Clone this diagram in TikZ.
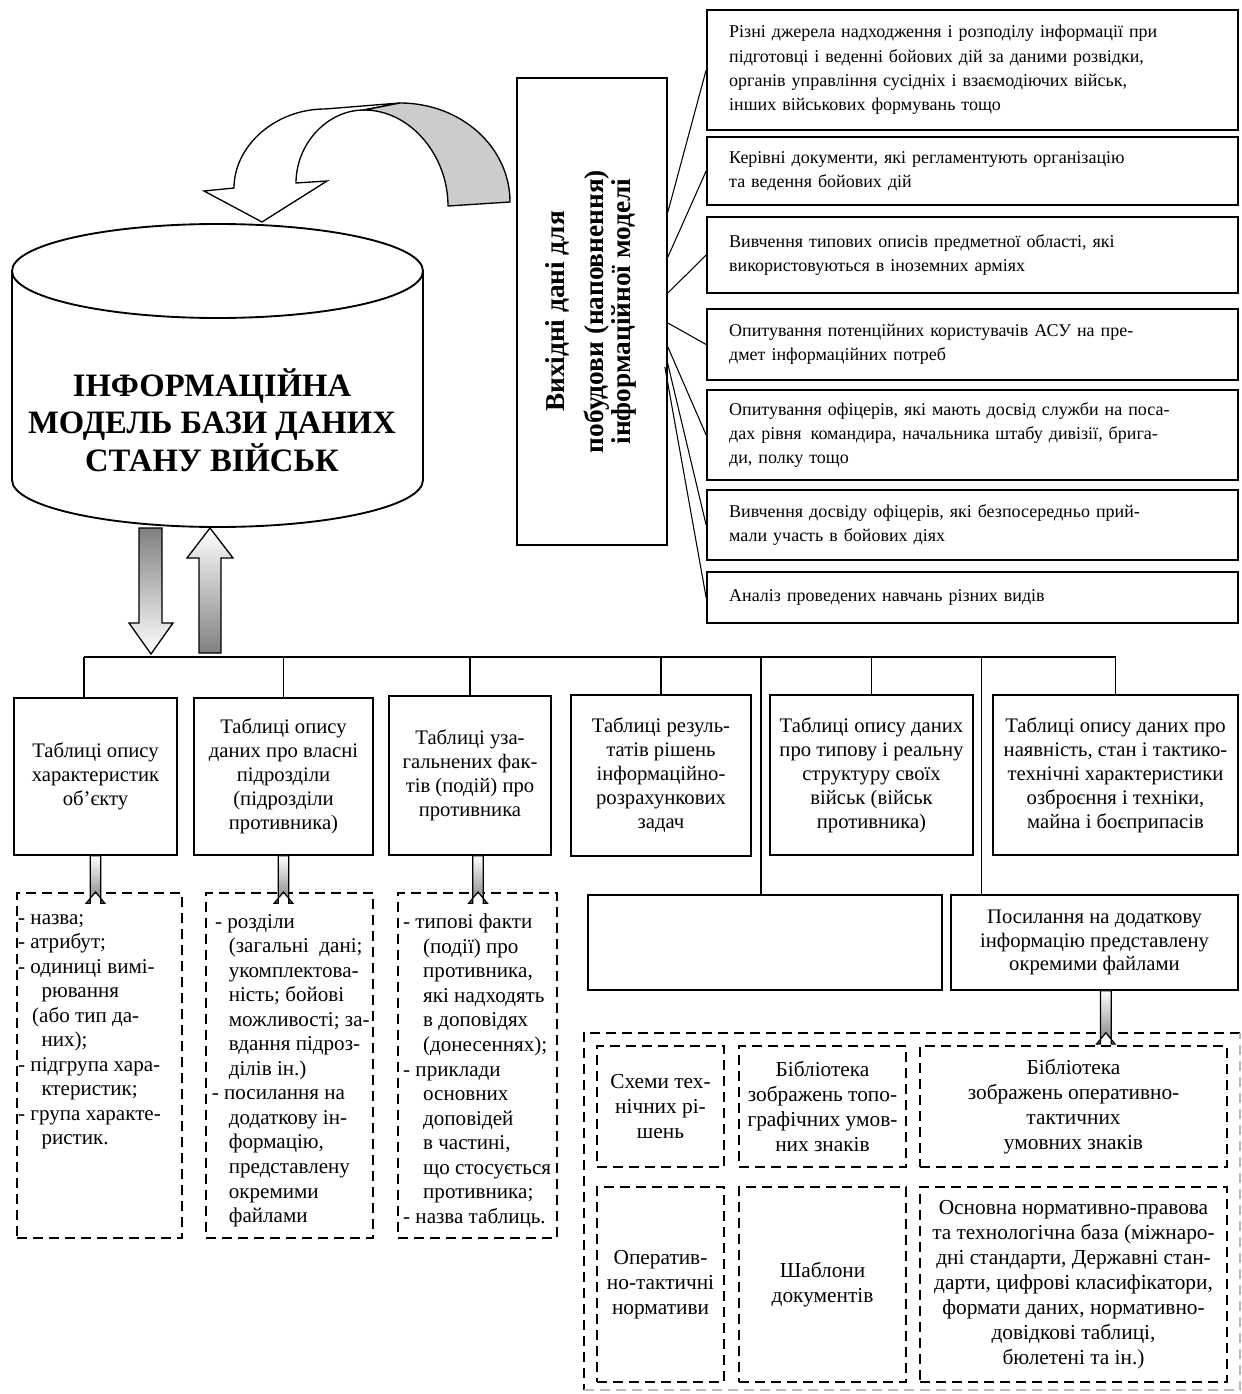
\documentclass[tikz,border=0pt]{standalone}
\usepackage{fontspec}
\setmainfont{Liberation Serif}
\usepackage{graphicx}
\usetikzlibrary{calc}

% small block arrow from one node to the next
\newcommand{\fatdown}[2]{\draw[fatarrow] let \p1=(#1), \p2=(#2) in (\x1-4pt,\y1) -- (\x1+4pt,\y1) -- (\x1+4pt,\y2+8.5pt) -- (\x1+7pt,\y2+8.5pt) -- (\x1,\y2) -- (\x1-7pt,\y2+8.5pt) -- (\x1-4pt,\y2+8.5pt) -- cycle;}

\tikzset{
  srcbox/.style={draw, line width=1.3pt, minimum width=398.25pt, text width=365pt, inner xsep=16.6pt, align=left, font=\fontsize{13.5}{18.2}\selectfont},
  tblbox/.style={draw, line width=1.3pt, align=center, inner sep=1pt, font=\fontsize{15.5}{18}\selectfont},
  listbox/.style={draw, line width=1.6pt, dash pattern=on 7.5pt off 4.5pt},
  listtext/.style={anchor=north west, inner sep=0pt, align=left, font=\fontsize{15.8}{18.4}\selectfont},
  libbox/.style={draw, line width=1.5pt, dash pattern=on 7.5pt off 4.5pt, align=center, inner sep=1pt, font=\fontsize{16}{18.8}\selectfont},
  link/.style={line width=0.8pt},
  fatarrow/.style={draw, line width=0.9pt, top color=white, bottom color=gray},
}

\begin{document}
\begin{tikzpicture}[x=0.75pt,y=0.75pt,yscale=-1,xscale=1]
\useasboundingbox (0,0) rectangle (1241,1394);

%Shape: Curved Arrow (white part)
\draw[line width=1pt, fill=white] (234,188) .. controls (234,146) and (275,109) .. (325,109) -- (400,103) -- (364,110) .. controls (327,110) and (296,144) .. (296,183) -- (327,181) -- (262,222) -- (204,191) -- cycle ;
%Shape: Curved Arrow (grey part)
\draw[line width=1pt, fill=gray!40] (364,110) .. controls (410,110) and (448,155) .. (448,206) -- (510,202) .. controls (510,147) and (461,103) .. (400,103) -- cycle ;

%Shape: Can
\draw[line width=1.4pt] (12,271) -- (12,480) arc[start angle=180, end angle=0, x radius=205.5, y radius=47] -- (423,271) ;
\draw[line width=1.4pt] (217.5,271) ellipse [x radius=205.5, y radius=47] ;
% Text Node
\node[align=center, font=\bfseries\fontsize{24.5}{28}\selectfont] (db) at (212,420) {ІНФОРМАЦІЙНА\\МОДЕЛЬ БАЗИ ДАНИХ\\СТАНУ ВІЙСЬК};

%Shape: Block Arrows
\draw[line width=1pt, top color=gray, bottom color=white] (139,528) -- (162,528) -- (162,623) -- (173,623) -- (151,654) -- (129,623) -- (139,623) -- cycle ;
\draw[line width=1pt, top color=white, bottom color=gray] (210,528) -- (233,558) -- (221,558) -- (221,653) -- (199,653) -- (199,558) -- (187,558) -- cycle ;

%Shape: Rectangle (vertical title)
\node[draw, line width=1.3pt, minimum width=112.5pt, minimum height=350.25pt, font=\bfseries\fontsize{20.5}{20}\selectfont] (title) at (592,311.5) {\rotatebox{90}{\begin{tabular}{@{}c@{}}Вихідні дані для\\[9pt] побудови (наповнення)\\ інформаційної моделі\end{tabular}}};

%Shape: Rectangles (sources)
\node[srcbox, minimum height=90pt] (src1) at (972.5,70) {Різні джерела надходження і розподілу інформації при\\ підготовці і веденні бойових дій за даними розвідки,\\ органів управління сусідніх і взаємодіючих військ,\\ інших військових формувань тощо};
\node[srcbox, minimum height=51pt] (src2) at (972.5,171) {Керівні документи, які регламентують організацію\\ та ведення бойових дій};
\node[srcbox, minimum height=57pt] (src3) at (972.5,255) {Вивчення типових описів предметної області, які\\ використовуються в іноземних арміях};
\node[srcbox, minimum height=53.25pt] (src4) at (972.5,344.5) {Опитування потенційних користувачів АСУ на пре-\\ дмет інформаційних потреб};
\node[srcbox, minimum height=67.5pt] (src5) at (972.5,435) {Опитування офіцерів, які мають досвід служби на поса-\\ дах рівня\enspace командира, начальника штабу дивізії, брига-\\ ди, полку тощо};
\node[srcbox, minimum height=52.5pt] (src6) at (972.5,525) {Вивчення досвіду офіцерів, які безпосередньо прий-\\ мали участь в бойових діях};
\node[srcbox, minimum height=38.25pt] (src7) at (972.5,597.5) {Аналіз проведених навчань різних видів};

%Straight Lines (fan)
\draw[link] (title.east) ++(0,-99.5) -- (src1.west) ;
\draw[link] (title.east) ++(0,-54.5) -- (src2.west) ;
\draw[link] (title.east) ++(0,-18.5) -- (src3.west) ;
\draw[link] (title.east) ++(0,11.5) -- (src4.west) ;
\draw[link] (title.east) ++(0,35.5) -- (src5.west) ;
\draw[link] (title.east) ++(-1,48.5) -- (src6.west) ;
\draw[link] (title.east) ++(-3,55.5) -- (src7.west) ;

%Shape: Rectangles (tables)
\node[tblbox, minimum width=122.25pt, minimum height=117.75pt] (t1) at (95.5,776.5) {Таблиці опису\\ характеристик\\ об’єкту};
\node[tblbox, minimum width=134.25pt, minimum height=117.75pt] (t2) at (283.5,776.5) {Таблиці опису\\ даних про власні\\ підрозділи\\ (підрозділи\\ противника)};
\node[tblbox, minimum width=121.5pt, minimum height=119.25pt] (t3) at (470,775.5) {Таблиці уза-\\ гальнених фак-\\ тів (подій) про\\ противника};
\node[tblbox, minimum width=135pt, minimum height=120.75pt] (t4) at (661,775.5) {Таблиці резуль-\\ татів рішень\\ інформаційно-\\ розрахункових\\ задач};
\node[tblbox, minimum width=152.25pt, minimum height=120pt] (t5) at (871.5,775) {Таблиці опису даних\\ про типову і реальну\\ структуру своїх\\ військ (військ\\ противника)};
\node[tblbox, minimum width=183.75pt, minimum height=120pt] (t6) at (1115.5,775) {Таблиці опису даних про\\ наявність, стан і тактико-\\ технічні характеристики\\ озброєння і техніки,\\ майна і боєприпасів};

\node[tblbox, minimum width=265.5pt, minimum height=71.25pt] (e) at (765,942.5) {};
\node[tblbox, minimum width=215.25pt, minimum height=71.25pt, font=\fontsize{15.5}{17.5}\selectfont] (p) at (1094.5,942.5) {Посилання на додаткову\\ інформацію представлену\\ окремими файлами};

%Straight Lines (bus)
\coordinate (bus1) at (84,657);
\draw[link] (bus1) -- (t6.north |- bus1) ;
\draw[link] (bus1) -- (bus1 |- t1.north) ;
\draw[link] (t2.north) -- (t2.north |- bus1) ;
\draw[link] (t3.north) -- (t3.north |- bus1) ;
\draw[link] (t4.north) -- (t4.north |- bus1) ;
\draw[link] (t5.north) -- (t5.north |- bus1) ;
\draw[link] (t6.north) -- (t6.north |- bus1) ;
\draw[link] ([xshift=-3pt]e.north) -- ([xshift=-3pt]e.north |- bus1) ;
\draw[link] ([xshift=23.25pt]p.north west) -- ([xshift=23.25pt]p.north west |- bus1) ;

%Shape: Dashed Rectangles (lists)
\node[listbox, minimum width=123.75pt, minimum height=258.75pt] (d1) at (99.5,1065.5) {};
\node[listbox, minimum width=125.25pt, minimum height=258.75pt] (d2) at (289.5,1065.5) {};
\node[listbox, minimum width=119.25pt, minimum height=258.75pt] (d3) at (477.5,1065.5) {};

% Text Node
\node[listtext] (l1) at ([xshift=1.5pt,yshift=16.5pt]d1.north west) {- назва;\\ - атрибут;\\ - одиниці вимі-\\ \hspace*{17.5pt}рювання\\ \hspace*{10.5pt}(або тип да-\\ \hspace*{17.5pt}них);\\ - підгрупа хара-\\ \hspace*{17.5pt}ктеристик;\\ - група характе-\\ \hspace*{17.5pt}ристик.};
% Text Node
\node[listtext] (l2) at ([xshift=5pt,yshift=16.5pt]d2.north west) {\hspace*{2.5pt}- розділи\\ \hspace*{12.75pt}(загальні\enspace дані;\\ \hspace*{12.75pt}укомплектова-\\ \hspace*{12.75pt}ність; бойові\\ \hspace*{12.75pt}можливості; за-\\ \hspace*{12.75pt}вдання підроз-\\ \hspace*{12.75pt}ділів ін.)\\ - посилання на\\ \hspace*{12.75pt}додаткову ін-\\ \hspace*{12.75pt}формацію,\\ \hspace*{12.75pt}представлену\\ \hspace*{12.75pt}окремими\\ \hspace*{12.75pt}файлами};
% Text Node
\node[listtext] (l3) at ([xshift=4.5pt,yshift=16.5pt]d3.north west) {- типові факти\\ \hspace*{15pt}(події) про\\ \hspace*{15pt}противника,\\ \hspace*{15pt}які надходять\\ \hspace*{15pt}в доповідях\\ \hspace*{15pt}(донесеннях);\\ - приклади\\ \hspace*{15pt}основних\\ \hspace*{15pt}доповідей\\ \hspace*{15pt}в частині,\\ \hspace*{15pt}що стосується\\ \hspace*{15pt}противника;\\ - назва таблиць.};

%Shape: Block Arrows (small)
\fatdown{t1.south}{d1.north}
\fatdown{t2.south}{d2.north}
\fatdown{[xshift=6pt]t3.south}{d3.north}

%Shape: Dashed Rectangle (store)
\node[minimum width=492pt, minimum height=267.75pt, inner sep=0pt] (store) at (912,1211.5) {};
\draw[line width=1.6pt, dash pattern=on 7.5pt off 4.5pt] (store.north east) -- (store.north west) -- (store.south west) ;
\draw[line width=1.6pt, gray!55, dash pattern=on 7.5pt off 4.5pt] (store.south west) -- (store.south east) -- (store.north east) ;
\fatdown{[xshift=8.5pt]p.south}{store.north}

%Shape: Dashed Rectangles (library)
\node[libbox, minimum width=95.25pt, minimum height=90.75pt] (i1) at (660.5,1106.5) {Схеми тех-\\ нічних рі-\\ шень};
\node[libbox, minimum width=125.25pt, minimum height=90.75pt] (i2) at (822.5,1106.5) {Бібліотека\\ зображень топо-\\ графічних умов-\\ них знаків};
\node[libbox, minimum width=230.25pt, minimum height=90.75pt] (i3) at (1073.5,1106.5) {Бібліотека\\ зображень оперативно-\\ тактичних\\ умовних знаків};
\node[libbox, minimum width=95.25pt, minimum height=146.25pt] (i4) at (660.5,1284.5) {Оператив-\\ но-тактичні\\ нормативи};
\node[libbox, minimum width=125.25pt, minimum height=146.25pt] (i5) at (822.5,1284.5) {Шаблони\\ документів};
\node[libbox, minimum width=230.25pt, minimum height=146.25pt] (i6) at (1073.5,1284.5) {Основна нормативно-правова\\ та технологічна база (міжнаро-\\ дні стандарти, Державні стан-\\ дарти, цифрові класифікатори,\\ формати даних, нормативно-\\ довідкові таблиці,\\ бюлетені та ін.)};

\end{tikzpicture}
\end{document}
